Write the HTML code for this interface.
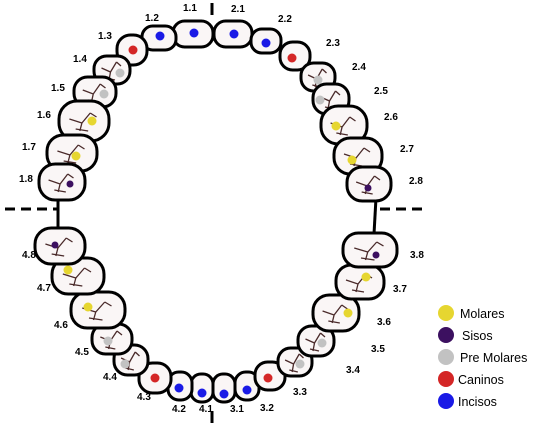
<!DOCTYPE html>
<html><head><meta charset="utf-8"><style>
html,body{margin:0;padding:0;background:#fff;}
svg{display:block;font-family:"Liberation Sans",sans-serif;}
</style></head><body>
<svg id="chart" width="540" height="425" viewBox="0 0 540 425" xmlns="http://www.w3.org/2000/svg">
<g id="guides">
<line x1="212" y1="3" x2="212" y2="15" stroke="#000" stroke-width="3"/>
<line x1="212" y1="411" x2="212" y2="423" stroke="#000" stroke-width="3"/>
<line x1="5" y1="209" x2="58" y2="209" stroke="#000" stroke-width="3" stroke-dasharray="10,6"/>
<line x1="380" y1="209" x2="425" y2="209" stroke="#000" stroke-width="3" stroke-dasharray="10,6"/>
<line x1="58" y1="196" x2="58" y2="230" stroke="#000" stroke-width="3"/>
<line x1="376" y1="198" x2="374" y2="234" stroke="#000" stroke-width="3"/>
</g>
<g id="teeth"></g>
<g id="legend"></g>
</svg>
<script>
const toothIds = ["1.1","1.2","1.3","1.4","1.5","1.6","1.7","1.8","2.1","2.2","2.3","2.4","2.5","2.6","2.7","2.8","3.1","3.2","3.3","3.4","3.5","3.6","3.7","3.8","4.1","4.2","4.3","4.4","4.5","4.6","4.7","4.8"];
const toothTypes = ["Incisos","Incisos","Caninos","Pre Molares","Pre Molares","Molares","Molares","Sisos","Incisos","Incisos","Caninos","Pre Molares","Pre Molares","Molares","Molares","Sisos","Incisos","Incisos","Caninos","Pre Molares","Pre Molares","Molares","Molares","Sisos","Incisos","Incisos","Caninos","Pre Molares","Pre Molares","Molares","Molares","Sisos"];
const categories = ["Molares","Sisos","Pre Molares","Caninos","Incisos"];
const categoryColors = ["#e6d630","#3c1060","#c2c2c2","#d42626","#1a1ae6"];
// layout geometry (not data)
const centers = [[193,34],[159,38],[132,50],[112,70],[95,92],[84,121],[72,153],[62,182],[233,34],[266,41],[295,56],[318,77],[331,99],[344,125],[358,156],[369,184],[224,388],[247,386],[270,376],[295,362],[316,341],[336,313],[360,282],[370,250],[202,388],[180,386],[155,378],[131,360],[112,339],[98,310],[78,276],[60,246]];
const boxes = [[40,26],[34,24],[30,30],[36,28],[42,30],[50,40],[50,36],[46,36],[38,26],[30,24],[30,28],[34,28],[36,30],[46,38],[48,36],[44,34],[22,28],[24,28],[30,28],[34,28],[36,30],[46,36],[48,34],[54,34],[22,28],[24,28],[32,30],[34,30],[40,30],[54,36],[52,36],[50,36]];
const markerPos = [[194,33],[160,36],[133,50],[120,73],[104,94],[92,121],[76,156],[70,184],[234,34],[266,43],[292,58],[318,80],[320,100],[336,126],[352,160],[368,188],[224,394],[247,390],[268,378],[300,364],[322,343],[348,313],[366,277],[376,255],[202,393],[179,388],[155,378],[125,364],[108,341],[88,307],[68,270],[55,245]];
const labelPos = [[183,11],[145,21],[98,39],[73,62],[51,91],[37,118],[22,150],[19,182],[231,12],[278,22],[326,46],[352,70],[374,94],[384,120],[400,152],[409,184],[230,412],[260,411],[293,395],[346,373],[371,352],[377,325],[393,292],[410,258],[199,412],[172,412],[137,400],[103,380],[75,355],[54,328],[37,291],[22,258]];
const NS="http://www.w3.org/2000/svg";
const tg=document.getElementById('teeth');
for(let i=0;i<toothIds.length;i++){
  const [cx,cy]=centers[i];
  const t=toothTypes[i];
  const [w,h]=boxes[i];
  const g=document.createElementNS(NS,'g');
  
  
  g.setAttribute('transform',`translate(${cx},${cy})`);
  const r=document.createElementNS(NS,'rect');
  
  
  r.setAttribute('x',-w/2);r.setAttribute('y',-h/2);r.setAttribute('width',w);r.setAttribute('height',h);
  r.setAttribute('rx',Math.min(w,h)*0.45);
  r.setAttribute('fill','#faf6f6');r.setAttribute('stroke','#000');r.setAttribute('stroke-width','3');
  g.appendChild(r);
  if(t!=="Incisos" && t!=="Caninos"){
    const p=document.createElementNS(NS,'path');
    
    
    const s=w/48;
    p.setAttribute('d',`M${-14*s},${-2} L${-2*s},2 L${6*s},-8 M${-2*s},2 L${-4*s},10 M${6*s},-8 L${12*s},-4 M${-8*s},8 L${4*s},10`);
    p.setAttribute('stroke','#4a2a2a');p.setAttribute('stroke-width','1.3');p.setAttribute('fill','none');
    g.appendChild(p);
  }
  tg.appendChild(g);
  const c=document.createElementNS(NS,'circle');
  
  
  c.setAttribute('cx',markerPos[i][0]);c.setAttribute('cy',markerPos[i][1]);c.setAttribute('r',t==="Sisos"?3.5:4.5);
  c.setAttribute('fill',categoryColors[categories.indexOf(t)]);
  tg.appendChild(c);
  const tx=document.createElementNS(NS,'text');
  
  
  tx.setAttribute('x',labelPos[i][0]);tx.setAttribute('y',labelPos[i][1]);
  tx.setAttribute('font-size','10');tx.setAttribute('font-weight','bold');
  tx.textContent=toothIds[i];
  tg.appendChild(tx);
}
const lg=document.getElementById('legend');
for(let i=0;i<categories.length;i++){
  const y=313+i*22;
  const c=document.createElementNS(NS,'circle');
  
  
  c.setAttribute('cx',446);c.setAttribute('cy',y);c.setAttribute('r',8);
  c.setAttribute('fill',categoryColors[i]);
  lg.appendChild(c);
  const tx=document.createElementNS(NS,'text');
  
  
  tx.setAttribute('x',i===1?462:(i>=3?458:460));tx.setAttribute('y',y+5);
  tx.setAttribute('font-size','12.5');
  tx.textContent=categories[i];
  lg.appendChild(tx);
}
</script>
</body></html>
